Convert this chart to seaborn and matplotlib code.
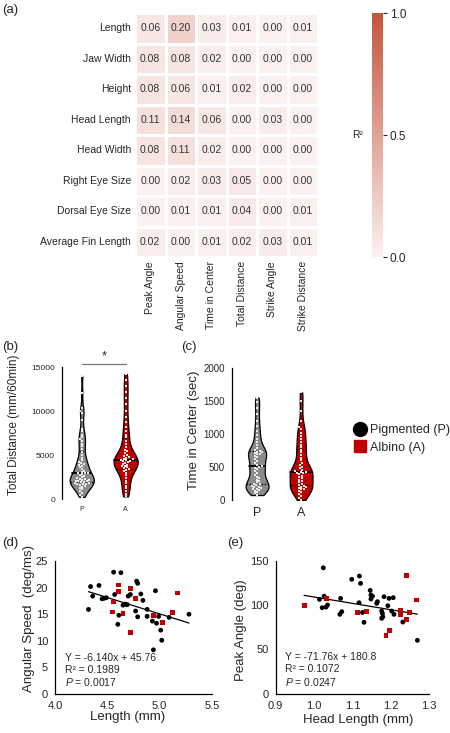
import numpy as np
import pandas as pd
import matplotlib
matplotlib.use("Agg")
import matplotlib.pyplot as plt
from matplotlib.colors import LinearSegmentedColormap
from matplotlib.lines import Line2D
import seaborn as sns
import warnings
warnings.filterwarnings("ignore")

sns.set_style("white")
plt.rcParams['font.family'] = ['Liberation Sans', 'DejaVu Sans']
plt.rcParams['mathtext.fontset'] = 'custom'
plt.rcParams['mathtext.rm'] = 'Liberation Sans'
plt.rcParams['mathtext.it'] = 'Liberation Sans:italic'

# ---------------- data ----------------
morph_traits = ["Length", "Jaw Width", "Height", "Head Length", "Head Width",
                "Right Eye Size", "Dorsal Eye Size", "Average Fin Length"]
behaviours = ["Peak Angle", "Angular Speed", "Time in Center", "Total Distance",
              "Strike Angle", "Strike Distance"]
r2_length = [0.06, 0.20, 0.03, 0.01, 0.00, 0.01]
r2_jaw = [0.08, 0.08, 0.02, 0.00, 0.00, 0.00]
r2_height = [0.08, 0.06, 0.01, 0.02, 0.00, 0.00]
r2_headlen = [0.11, 0.14, 0.06, 0.00, 0.03, 0.00]
r2_headwid = [0.08, 0.11, 0.02, 0.00, 0.00, 0.00]
r2_reye = [0.00, 0.02, 0.03, 0.05, 0.00, 0.00]
r2_deye = [0.00, 0.01, 0.01, 0.04, 0.00, 0.01]
r2_fin = [0.02, 0.00, 0.01, 0.02, 0.03, 0.01]

groups = ["P", "A"]
dist_P = [250, 500, 700, 900, 1100, 1250, 1400, 1500, 1600, 1650, 1700, 1750, 1800, 1850,
          1900, 1950, 2000, 2050, 2100, 2150, 2200, 2250, 2300, 2400, 2500, 2600, 2700,
          2800, 2900, 2950, 3000, 3100, 3200, 3400, 3600, 3800, 3900, 4000, 4100, 4200,
          4400, 4700, 5000, 5300, 5700, 6000, 6300, 6600, 6800, 7000, 7300, 7700, 8000,
          9000, 9800, 10000, 10300, 12000, 14000]
dist_A = [300, 600, 900, 1200, 1500, 1800, 2100, 2400, 2700, 3000, 3200, 3300, 3400, 3500,
          3600, 3700, 3800, 3900, 4000, 4100, 4200, 4300, 4350, 4400, 4450, 4500, 4600,
          4700, 4800, 4900, 5000, 5200, 5400, 5600, 5900, 6200, 6600, 7000, 7300, 7700,
          8200, 8700, 9300, 10000, 10800, 11500, 12200, 12800, 13500, 14200]
time_P = [75, 100, 120, 140, 150, 160, 170, 180, 190, 200, 210, 220, 235, 250, 270, 290,
          310, 330, 350, 380, 410, 440, 470, 490, 500, 510, 530, 560, 590, 620, 650, 670,
          690, 700, 710, 720, 730, 740, 760, 790, 830, 880, 930, 990, 1050, 1120, 1200,
          1300, 1400, 1480, 1550]
time_A = [0, 30, 60, 90, 120, 140, 160, 170, 180, 190, 200, 215, 230, 250, 270, 290, 310,
          330, 350, 370, 390, 405, 415, 420, 425, 440, 460, 480, 500, 530, 560, 600, 640,
          680, 720, 760, 800, 840, 880, 920, 970, 1020, 1070, 1100, 1200, 1350, 1500, 1630]

len_P = [4.32, 4.34, 4.36, 4.42, 4.45, 4.47, 4.49, 4.56, 4.57, 4.60, 4.61, 4.63, 4.65, 4.67,
         4.69, 4.70, 4.72, 4.77, 4.78, 4.79, 4.79, 4.82, 4.84, 4.88, 4.88, 4.93, 4.94, 4.96,
         4.97, 4.99, 5.01, 5.02, 5.09, 5.28]
speed_P = [15.9, 20.2, 18.4, 20.4, 17.9, 18.0, 18.1, 22.9, 18.7, 13.1, 14.8, 22.8, 16.7, 16.9,
           16.8, 18.4, 18.7, 15.6, 21.2, 20.8, 14.5, 18.8, 17.6, 15.9, 14.6, 13.7, 8.3, 19.4,
           13.3, 14.6, 12.0, 10.1, 14.4, 15.0]
len_A = [4.55, 4.56, 4.61, 4.61, 4.65, 4.72, 4.72, 4.77, 4.94, 5.03, 5.12, 5.17]
speed_A = [15.4, 17.3, 20.5, 19.2, 15.2, 19.8, 11.6, 17.9, 14.8, 13.4, 15.3, 19.0]
fit_d = (-6.140, 45.76)

hlen_P = [1.014, 1.021, 1.024, 1.026, 1.031, 1.035, 1.069, 1.067, 1.072, 1.098, 1.118, 1.121,
          1.117, 1.126, 1.130, 1.146, 1.148, 1.152, 1.148, 1.163, 1.165, 1.176, 1.178, 1.179,
          1.176, 1.182, 1.195, 1.206, 1.192, 1.202, 1.208, 1.231, 1.269]
angle_P = [106.4, 97.0, 142.0, 110.0, 97.7, 100.0, 107.5, 89.5, 92.5, 129.0, 132.7, 124.4,
           102.6, 91.7, 80.5, 116.5, 111.3, 110.0, 106.8, 101.9, 103.8, 93.2, 90.6, 86.8,
           85.0, 109.4, 107.5, 108.3, 99.2, 93.2, 89.5, 80.8, 60.2]
hlen_A = [0.974, 1.033, 1.113, 1.137, 1.187, 1.196, 1.224, 1.225, 1.241, 1.241, 1.249, 1.266]
angle_A = [99.2, 107.0, 91.7, 92.9, 65.4, 71.4, 94.0, 88.7, 133.0, 83.8, 91.4, 105.6]
fit_e = (-71.76, 180.8)

P_COLOR_V = "#8a8a8a"
A_COLOR = "#c00000"

# ---------------- figure ----------------
W, H = 450, 733
fig = plt.figure(figsize=(W / 100, H / 100), dpi=100)


def px_axes(l, t, r, b):
    return fig.add_axes([l / W, 1 - b / H, (r - l) / W, (b - t) / H])


def style_axes(ax, lw=0.9):
    for s in ["top", "right"]:
        ax.spines[s].set_visible(False)
    for s in ["left", "bottom"]:
        ax.spines[s].set_color("black")
        ax.spines[s].set_linewidth(lw)
    ax.tick_params(direction="out", length=3, width=0.8, color="black", pad=2)


# (a) heatmap
heat = pd.DataFrame([r2_length, r2_jaw, r2_height, r2_headlen, r2_headwid, r2_reye,
                     r2_deye, r2_fin], index=morph_traits, columns=behaviours)
cmap = LinearSegmentedColormap.from_list("r2", ["#fbf1f0", "#c4553d"])
ax_h = px_axes(135, 13, 318, 257)
cax = px_axes(372, 13, 383, 257)
sns.heatmap(heat, ax=ax_h, cbar_ax=cax, cmap=cmap, vmin=0, vmax=1, annot=True, fmt=".2f",
            annot_kws={"fontsize": 7.5, "color": "#333333"}, linewidths=1, linecolor="white")
ax_h.tick_params(length=0, labelsize=7.5, pad=3)
ax_h.set_xticklabels(ax_h.get_xticklabels(), rotation=90)
ax_h.set_yticklabels(ax_h.get_yticklabels(), rotation=0)
ax_h.set_xlabel("")
ax_h.set_ylabel("")
cax.set_yticks([0, 0.5, 1.0])
cax.set_yticklabels(["0.0", "0.5", "1.0"])
cax.tick_params(labelsize=8.5, length=3, width=0.8, pad=2)
fig.text(358 / W, 1 - 135 / H, "R²", fontsize=7.5, ha="center", va="center")


def violin(ax, a, b, width):
    df = pd.DataFrame({"group": ["P"] * len(a) + ["A"] * len(b), "value": list(a) + list(b)})
    sns.violinplot(data=df, x="group", y="value", order=groups, hue="group",
                   palette={"P": P_COLOR_V, "A": A_COLOR}, inner="quart", cut=0,
                   bw_adjust=0.5, density_norm="width", width=width, linecolor="black",
                   linewidth=0.9, legend=False, ax=ax, saturation=1)
    n_lines = len(ax.lines)
    sns.swarmplot(data=df, x="group", y="value", order=groups, color="#ececec", marker="s",
                  size=1.9, linewidth=0, ax=ax)
    for i, ln in enumerate(ax.lines[:n_lines]):
        ln.set_color("black")
        ln.set_zorder(3)
        if i % 3 == 1:
            ln.set_linestyle("-")
            ln.set_linewidth(1.3)
        else:
            ln.set_linestyle((0, (1, 1.2)))
            ln.set_linewidth(1.0)
    ax.set_xlabel("")
    style_axes(ax)
    ax.spines["bottom"].set_visible(False)


# (b)
ax_b = px_axes(62, 367, 152, 499)
violin(ax_b, dist_P, dist_A, 0.55)
ax_b.set_xlim(-0.45, 1.6)
ax_b.set_ylim(0, 15000)
ax_b.set_yticks([0, 5000, 10000, 15000])
ax_b.tick_params(axis="y", labelsize=6)
ax_b.tick_params(axis="x", labelsize=5)
ax_b.set_ylabel("Total Distance (mm/60min)", fontsize=8.5)
ax_b.yaxis.set_label_coords(-0.47, 0.56)
ax_b.plot([0, 1], [15350, 15350], color="#777777", lw=0.9, clip_on=False)
ax_b.text(0.5, 15500, "*", ha="center", va="bottom", fontsize=9)

# (c)
ax_c = px_axes(232, 368, 327.5, 500)
violin(ax_c, time_P, time_A, 0.52)
ax_c.set_xlim(-0.57, 1.6)
ax_c.set_ylim(0, 2000)
ax_c.set_yticks([0, 500, 1000, 1500, 2000])
ax_c.tick_params(axis="y", labelsize=7)
ax_c.tick_params(axis="x", labelsize=9)
ax_c.set_ylabel("Time in Center (sec)", fontsize=9.5)
ax_c.yaxis.set_label_coords(-0.335, 0.53)

# legend
handles = [Line2D([], [], marker="o", color="black", linestyle="none", markersize=10),
           Line2D([], [], marker="s", color=A_COLOR, linestyle="none", markersize=9)]
fig.legend(handles, ["Pigmented (P)", "Albino (A)"], loc="center left",
           bbox_to_anchor=(347 / W, 1 - 439 / H), frameon=False, fontsize=9,
           handletextpad=0.1, handlelength=1.3, labelspacing=0.45, borderaxespad=0)


def scatter(ax, xp, yp, xa, ya, fit):
    df = pd.DataFrame({"x": list(xp) + list(xa), "y": list(yp) + list(ya),
                       "group": ["P"] * len(xp) + ["A"] * len(xa)})
    sns.scatterplot(data=df, x="x", y="y", hue="group", style="group",
                    palette={"P": "black", "A": A_COLOR}, markers={"P": "o", "A": "s"},
                    s=12, linewidth=0, legend=False, ax=ax, zorder=3)
    xs = np.array([df["x"].min(), df["x"].max()])
    ax.plot(xs, fit[0] * xs + fit[1], color="black", lw=0.9, zorder=2)
    style_axes(ax)
    ax.tick_params(labelsize=8)


# (d)
ax_d = px_axes(55, 561, 212, 694)
scatter(ax_d, len_P, speed_P, len_A, speed_A, fit_d)
ax_d.set_xlim(4.0, 5.5)
ax_d.set_ylim(0, 25)
ax_d.set_xticks([4.0, 4.5, 5.0, 5.5])
ax_d.set_yticks([0, 5, 10, 15, 20, 25])
ax_d.set_xlabel("Length (mm)", fontsize=9.5)
ax_d.set_ylabel("Angular Speed  (deg/ms)", fontsize=9.5)
ax_d.yaxis.set_label_coords(-0.13, 0.57)
ax_d.xaxis.set_label_coords(0.465, -0.13)
for yy, t in zip([0.27, 0.18, 0.09], ["Y = -6.140x + 45.76", "R² = 0.1989", "$\\it{P}$ = 0.0017"]):
    ax_d.text(0.064, yy, t, transform=ax_d.transAxes, fontsize=7.5, va="center", ha="left")

# (e)
ax_e = px_axes(275.7, 560.7, 429.3, 693.7)
scatter(ax_e, hlen_P, angle_P, hlen_A, angle_A, fit_e)
ax_e.set_xlim(0.9, 1.3)
ax_e.set_ylim(0, 150)
ax_e.set_xticks([0.9, 1.0, 1.1, 1.2, 1.3])
ax_e.set_yticks([0, 50, 100, 150])
ax_e.set_xlabel("Head Length (mm)", fontsize=9.5)
ax_e.set_ylabel("Peak Angle (deg)", fontsize=9.5)
ax_e.yaxis.set_label_coords(-0.19, 0.48)
ax_e.xaxis.set_label_coords(0.536, -0.15)
for yy, t in zip([0.278, 0.183, 0.09], ["Y = -71.76x + 180.8", "R² = 0.1072", "$\\it{P}$ = 0.0247"]):
    ax_e.text(0.06, yy, t, transform=ax_e.transAxes, fontsize=7.5, va="center", ha="left")

# panel labels
for x, y, t in [(2, 10, "(a)"), (2, 347, "(b)"), (181, 347, "(c)"), (2, 543, "(d)"), (227, 543, "(e)")]:
    fig.text(x / W, 1 - y / H, t, fontsize=9.5, ha="left", va="center")

fig.savefig("out.png", dpi=100)
